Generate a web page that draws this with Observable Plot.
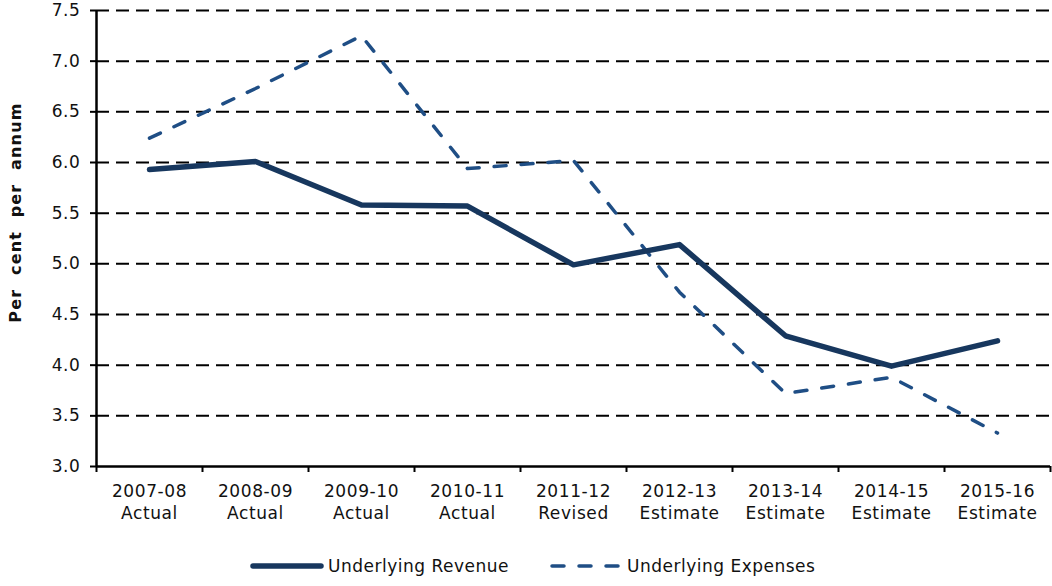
<!DOCTYPE html>
<html>
<head>
<meta charset="utf-8">
<script src="https://cdn.jsdelivr.net/npm/d3@7"></script>
<script src="https://cdn.jsdelivr.net/npm/@observablehq/plot@0.6"></script>
<style>
  html, body { margin: 0; padding: 0; background: #fff; }
  body { width: 1052px; height: 586px; overflow: hidden; font-family: "DejaVu Sans", Verdana, sans-serif; }
  #chart svg { display: block; letter-spacing: 0.6px; }
  #chart svg text.ylab { letter-spacing: 1.2px; }
  #legend { height: 40px; display: flex; align-items: center; font-size: 17px; letter-spacing: 0.5px; color: #111; }
  .item { display: flex; align-items: center; }
  .item svg { display: block; margin-right: 4px; }
</style>
</head>
<body>
<div id="chart"></div>
<div id="legend"></div>
<script>
const categories = ["2007-08","2008-09","2009-10","2010-11","2011-12","2012-13","2013-14","2014-15","2015-16"];
const status = ["Actual","Actual","Actual","Actual","Revised","Estimate","Estimate","Estimate","Estimate"];
const revenue = [5.93, 6.01, 5.58, 5.57, 4.99, 5.19, 4.29, 3.99, 4.24];
const expenses = [6.24, 6.73, 7.25, 5.94, 6.02, 4.72, 3.72, 3.88, 3.33];
const yTicks = [3.0, 3.5, 4.0, 4.5, 5.0, 5.5, 6.0, 6.5, 7.0, 7.5];
const seriesNames = ["Underlying Revenue", "Underlying Expenses"];
const yLabel = "Per\u00a0 cent\u00a0 per\u00a0 annum";

const revColor = "#17375E";
const expColor = "#1F4E85";

const idx = categories.map((_, i) => i);
const revData = idx.map(i => ({x: i, y: revenue[i]}));
const expData = idx.map(i => ({x: i, y: expenses[i]}));
const xMin = -0.5, xMax = categories.length - 0.5;
const bounds = d3.range(categories.length + 1).map(i => i - 0.5);

const plot = Plot.plot({
  width: 1052,
  height: 546,
  marginTop: 10,
  marginBottom: 80,
  marginLeft: 96,
  marginRight: 2,
  style: {fontFamily: "DejaVu Sans, Verdana, sans-serif", fontSize: "17px", color: "#111", background: "#fff"},
  x: {type: "linear", domain: [xMin, xMax]},
  y: {domain: [3, 7.5]},
  marks: [
    Plot.ruleY(yTicks.filter(t => t > 3), {stroke: "#000", strokeWidth: 2, strokeDasharray: "13,7"}),
    Plot.axisY({ticks: yTicks, tickFormat: d3.format(".1f"), tickSize: 6, tickPadding: 10, label: null, stroke: "#000", strokeWidth: 2}),
    Plot.axisX({ticks: bounds, tickFormat: () => "", tickSize: 6, label: null, stroke: "#000", strokeWidth: 2}),
    Plot.axisX({ticks: idx, tickSize: 0, tickPadding: 15, label: null, lineHeight: 1.3,
      tickFormat: i => categories[i] + "\n" + status[i]}),
    Plot.ruleX([xMin], {stroke: "#000", strokeWidth: 2.5}),
    Plot.ruleY([3], {stroke: "#000", strokeWidth: 2.5}),
    Plot.line(expData, {x: "x", y: "y", stroke: expColor, strokeWidth: 3.5, strokeDasharray: "12,15", strokeLinecap: "round"}),
    Plot.line(revData, {x: "x", y: "y", stroke: revColor, strokeWidth: 5.5, strokeLinecap: "round", strokeLinejoin: "round"}),
    Plot.text([yLabel], {frameAnchor: "left", textAnchor: "middle", rotate: -90, dx: -81, dy: -26, fontWeight: "bold", fontSize: 16, fill: "#111"})
  ]
});
document.getElementById("chart").appendChild(plot);
plot.querySelectorAll("text").forEach(t => { if (t.textContent === yLabel) t.classList.add("ylab"); });

// legend
const legend = document.getElementById("legend");
legend.style.paddingLeft = "250px";
const items = [
  {name: seriesNames[0], color: revColor, width: 5.5, dash: null},
  {name: seriesNames[1], color: expColor, width: 3.5, dash: "12,15"}
];
items.forEach((it, k) => {
  const div = document.createElement("div");
  div.className = "item";
  if (k > 0) div.style.marginLeft = "40px";
  const ns = "http://www.w3.org/2000/svg";
  const s = document.createElementNS(ns, "svg");
  s.setAttribute("width", 74); s.setAttribute("height", 12);
  const l = document.createElementNS(ns, "line");
  l.setAttribute("x1", 3); l.setAttribute("x2", 71); l.setAttribute("y1", 6); l.setAttribute("y2", 6);
  l.setAttribute("stroke", it.color); l.setAttribute("stroke-width", it.width);
  l.setAttribute("stroke-linecap", "round");
  if (it.dash) l.setAttribute("stroke-dasharray", it.dash);
  s.appendChild(l);
  div.appendChild(s);
  const t = document.createElement("span");
  t.textContent = it.name;
  div.appendChild(t);
  legend.appendChild(div);
});
</script>
</body>
</html>
